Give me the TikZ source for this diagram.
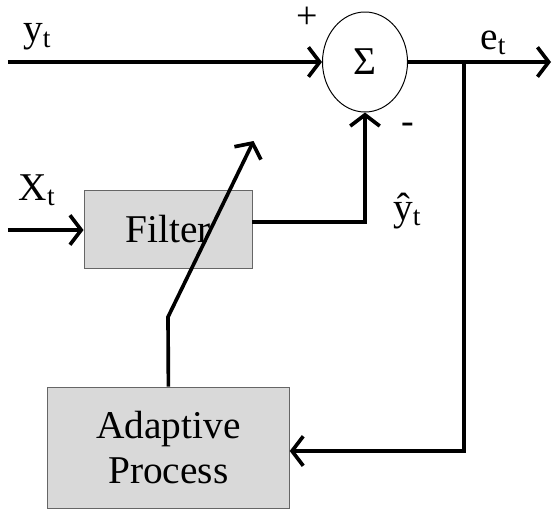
\documentclass[tikz,border=0pt]{standalone}
\usepackage{fontspec}
\setmainfont{Liberation Serif}
\usetikzlibrary{arrows.meta,shapes.geometric}

\tikzset{
  block/.style={draw=black!60, fill=gray!30, line width=0.7pt, align=center},
  sig/.style={line width=2.6pt},
  sign/.style={font=\fontsize{27}{30}\selectfont}
}

\begin{document}
\begin{tikzpicture}[>={Straight Barb[length=8pt,width=21pt]}, font=\fontsize{28}{32}\selectfont]
            \useasboundingbox (0,0) rectangle (13.8,-12.725);
            % blocks
            \node[draw, ellipse, line width=0.7pt, minimum width=2.125cm, minimum height=2.5cm, inner sep=0pt] (sum) at (9.125,-1.55) {Σ};
            \node[block, minimum width=4.2cm, minimum height=1.96cm] (filter) at (4.2,-5.73) {Filter};
            \node[block, minimum width=6.04cm, minimum height=3.04cm] (adapt) at (4.21,-11.2) {Adaptive\\Process};
            % free ends
            \coordinate (yin) at (0.2,-1.55);
            \coordinate (xin) at (0.2,-5.75);
            \coordinate (eout) at (13.775,-1.55);
            \coordinate (split) at (11.6,-1.55);
            \coordinate (kink) at (4.2,-7.925);
            \coordinate (tip) at (6.34,-3.525);
            % labels
            \node (ylab) at (0.93,-0.93) {y\textsubscript{t}};
            \node (xlab) at (0.93,-4.75) {X\textsubscript{t}};
            \node (elab) at (12.33,-1.07) {e\textsubscript{t}};
            \node (yhat) at (10.18,-5.28) {\^{y}\textsubscript{t}};
            \node[sign] (plus) at (7.675,-0.45) {+};
            \node[sign] (minus) at (10.2,-3.2) {-};
            % connectors
            \draw[sig,->] (yin) -- (sum.west);
            \draw[sig,->] (sum.east) -- (eout);
            \draw[sig,->] (split) |- (adapt.east |- 0,-11.275);
            \draw[sig,->] (xin) -- (filter.west |- xin);
            \draw[sig,->] ([yshift=0.18cm]filter.east) -| (sum.south);
            \draw[sig,->] (adapt.north) -- (kink) -- (tip);
        \end{tikzpicture}
\end{document}
